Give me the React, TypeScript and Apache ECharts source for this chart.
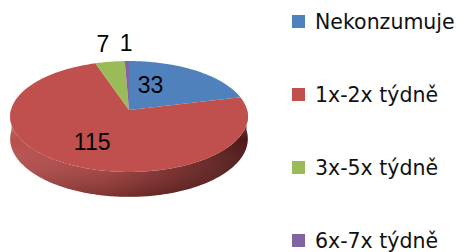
import React, { useEffect, useRef } from "react";
import * as echarts from "echarts";

const categories = ["Nekonzumuje", "1x-2x týdně", "3x-5x týdně", "6x-7x týdně"];
const values = [33, 115, 7, 1];
const colors = ["#4F81BD", "#C0504D", "#9BBB59", "#8064A2"];

const TOTAL = values.reduce((a, b) => a + b, 0);
const starts = values.map((_, i) => values.slice(0, i).reduce((a, b) => a + b, 0));

// projection of a tilted disc with perspective
const CX = 129;
const CY = 110;
const SR = 118;
const A = 54.7;
const B = 0.117;
const H = 22;

function proj(phiDeg: number, k: number, h: number): [number, number] {
  const p = (phiDeg * Math.PI) / 180;
  const X = k * Math.sin(p);
  const Y = k * Math.cos(p);
  const w = 1 + B * Y;
  return [CX + (SR * X) / w, CY + (-A * Y + h) / w];
}

function arc(a0: number, a1: number, h: number): [number, number][] {
  const n = Math.max(2, Math.ceil(Math.abs(a1 - a0) / 1));
  const pts: [number, number][] = [];
  for (let i = 0; i <= n; i++) pts.push(proj(a0 + ((a1 - a0) * i) / n, 1, h));
  return pts;
}

function renderSlice(params: any, api: any) {
  const start = api.value(0) as number;
  const val = api.value(1) as number;
  const idx = params.seriesIndex as number;
  const a0 = (start / TOTAL) * 360;
  const a1 = ((start + val) / TOTAL) * 360;
  const children: any[] = [];
  const s = Math.max(a0, 88);
  const e = Math.min(a1, 272);
  if (e > s) {
    const pts = arc(s, e, 0).concat(arc(e, s, H));
    children.push({
      type: "polygon",
      shape: { points: pts },
      style: {
        fill: new echarts.graphic.LinearGradient(1, 0, 0, 0, [
          { offset: 0, color: "#4a1614" },
          { offset: 0.3, color: "#7a2a28" },
          { offset: 0.6, color: "#a8423f" },
          { offset: 1, color: "#b9504d" },
        ]),
      },
    });
    children.push({
      type: "polygon",
      shape: { points: pts },
      style: {
        fill: new echarts.graphic.LinearGradient(0, 0, 0, 1, [
          { offset: 0, color: "rgba(255,210,210,0.4)" },
          { offset: 0.35, color: "rgba(255,255,255,0)" },
          { offset: 1, color: "rgba(0,0,0,0.25)" },
        ]),
      },
    });
  }
  const top: [number, number][] = [proj(0, 0, 0)].concat(arc(a0, a1, 0));
  children.push({
    type: "polygon",
    shape: { points: top },
    style: { fill: colors[idx] },
  });
  const mid = (a0 + a1) / 2;
  let lx: number;
  let ly: number;
  if (val / TOTAL > 0.1) {
    lx = proj(mid, 0.45, 0)[0] - 10;
    ly = proj(mid, 0.62, 0)[1];
  } else {
    const p = proj(mid, 1.43, 0);
    lx = p[0];
    ly = p[1];
  }
  children.push({
    type: "text",
    x: lx,
    y: ly,
    style: {
      text: String(val),
      fontFamily: "Liberation Sans",
      fontSize: 23,
      fill: "#000",
      align: "center",
      verticalAlign: "middle",
    },
  });
  return { type: "group", children };
}

export default function App() {
  const ref = useRef<HTMLDivElement>(null);
  useEffect(() => {
    if (!ref.current) return;
    const chart = echarts.init(ref.current, undefined, { renderer: "svg" });
    chart.setOption({
      animation: false,
      backgroundColor: "#ffffff",
      legend: categories.map((name, i) => ({
        orient: "vertical",
        left: 292,
        top: 11 + i * 73,
        padding: 0,
        itemWidth: 13,
        itemHeight: 13,
        icon: "rect",
        data: [name],
        textStyle: {
          fontFamily: "DejaVu Sans",
          fontSize: 20.5,
          lineHeight: 20,
          color: "#111",
          padding: [0, 0, 0, 5],
        },
      })),
      series: categories.map((name, i) => ({
        type: "custom",
        name,
        coordinateSystem: "none",
        itemStyle: { color: colors[i] },
        data: [[starts[i], values[i]]],
        renderItem: renderSlice,
      })),
    });
    return () => chart.dispose();
  }, []);
  return (
    <div
      ref={ref}
      style={{ position: "fixed", left: 0, top: 0, width: 465, height: 252 }}
    />
  );
}
